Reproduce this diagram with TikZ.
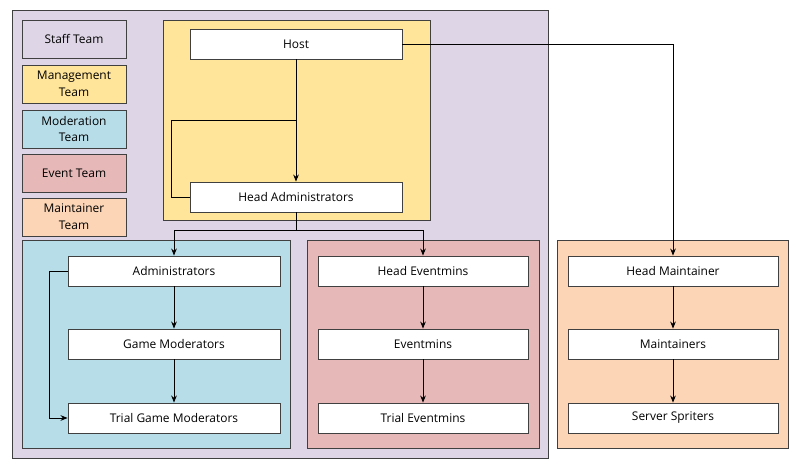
\documentclass[tikz,border=0pt]{standalone}
\usepackage{fontspec}
\setmainfont{Open Sans}
\usetikzlibrary{arrows.meta}
\definecolor{staffc}{HTML}{DED6E6}
\definecolor{mgmtc}{HTML}{FFE599}
\definecolor{modc}{HTML}{B7DDE8}
\definecolor{evtc}{HTML}{E6B8B7}
\definecolor{mntc}{HTML}{FBD5B5}
\tikzset{
  frame/.style={draw=black!75, line width=0.6pt},
  box/.style={draw=black!75, fill=white, line width=0.6pt, minimum width=5.3cm,
    minimum height=0.75cm, inner sep=0pt, font=\fontsize{8.5}{10}\selectfont},
  legend/.style={draw=black!75, line width=0.6pt, minimum width=2.6cm,
    minimum height=0.95cm, inner sep=0pt, align=center, font=\fontsize{8.5}{12}\selectfont},
  link/.style={line width=0.6pt, -{Stealth[length=5pt,width=4pt]}}
}
\begin{document}
\begin{tikzpicture}[x=0.025cm,y=-0.025cm]
    \useasboundingbox (0,0) rectangle (800,470);
    % Team frames
    \draw[frame, fill=staffc] (12,10) rectangle (548,458);
    \draw[frame, fill=mgmtc] (163,20) rectangle (430,220);
    \draw[frame, fill=modc] (22,240) rectangle (290,448);
    \draw[frame, fill=evtc] (307,240) rectangle (539,448);
    \draw[frame, fill=mntc] (557,240) rectangle (788,448);

    % Legend
    \node[legend, fill=staffc] (lstaff) at (74,39) {Staff Team};
    \node[legend, fill=mgmtc] (lmgmt) at (74,84) {Management\\Team};
    \node[legend, fill=modc] (lmod) at (74,129) {Moderation\\Team};
    \node[legend, fill=evtc] (levt) at (74,173) {Event Team};
    \node[legend, fill=mntc] (lmnt) at (74,217) {Maintainer\\Team};

    % Roles
    \node[box] (host) at (296,44) {Host};
    \node[box] (headadmin) at (296,197) {Head Administrators};
    \node[box] (admin) at (174,271) {Administrators};
    \node[box] (gamemod) at (174,344) {Game Moderators};
    \node[box] (trialgm) at (174,418) {Trial Game Moderators};
    \node[box, minimum width=5.25cm] (headevt) at (423,271) {Head Eventmins};
    \node[box, minimum width=5.25cm] (evt) at (423,344) {Eventmins};
    \node[box, minimum width=5.25cm] (trialevt) at (423,418) {Trial Eventmins};
    \node[box, minimum width=5.25cm] (headmnt) at (673,271) {Head Maintainer};
    \node[box, minimum width=5.25cm] (mnt) at (673,344) {Maintainers};
    \node[box, minimum width=5.25cm] (spriters) at (673,418) {Server Spriters};

    % Connectors
    \coordinate (split) at (296,230);
    \draw[link] (host) -- (headadmin);
    \draw[line width=0.6pt] (headadmin.west) -- ++(-18,0) |- (296,120);
    \draw[link] (host.east) -| (headmnt.north);
    \draw[line width=0.6pt] (headadmin.south) -- (split);
    \draw[link] (split) -| (admin.north);
    \draw[link] (split) -| (headevt.north);
    \draw[link] (admin) -- (gamemod);
    \draw[link] (gamemod) -- (trialgm);
    \draw[link] (admin.west) -- ++(-18,0) |- (trialgm.west);
    \draw[link] (headevt) -- (evt);
    \draw[link] (evt) -- (trialevt);
    \draw[link] (headmnt) -- (mnt);
    \draw[link] (mnt) -- (spriters);
\end{tikzpicture}
\end{document}
